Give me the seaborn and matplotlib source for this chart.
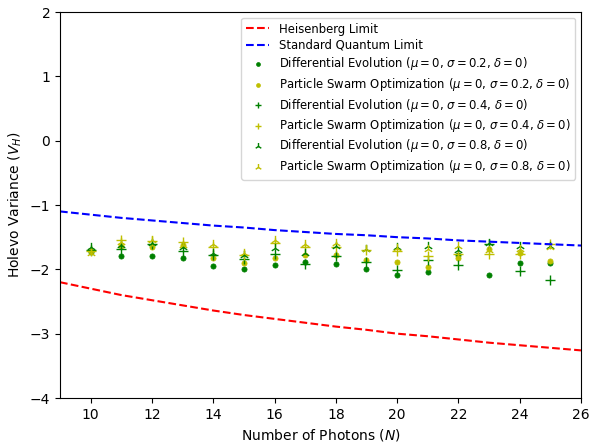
import matplotlib
matplotlib.use("Agg")
import matplotlib.pyplot as plt
import seaborn as sns
import pandas as pd

# Limit curves
n_line = [9, 10, 11, 12, 13, 14, 15, 16, 17, 18, 19, 20, 21, 22, 23, 24, 25, 26]
heisenberg = [-2.20, -2.30, -2.40, -2.48, -2.56, -2.64, -2.71, -2.77, -2.83, -2.89,
              -2.94, -3.00, -3.04, -3.09, -3.14, -3.18, -3.22, -3.26]
sql = [-1.10, -1.15, -1.20, -1.24, -1.28, -1.32, -1.35, -1.39, -1.42, -1.45,
       -1.47, -1.50, -1.52, -1.55, -1.57, -1.59, -1.61, -1.63]

# Optimisation results
n_pts = [10, 11, 12, 13, 14, 15, 16, 17, 18, 19, 20, 21, 22, 23, 24, 25]
de_02 = [-1.73, -1.80, -1.80, -1.82, -1.95, -2.00, -1.94, -1.89, -1.91, -1.99, -2.09, -2.04, -1.78, -2.09, -1.90, -1.90]
pso_02 = [-1.72, -1.64, -1.66, -1.62, -1.82, -1.90, -1.82, -1.78, -1.78, -1.86, -1.88, -1.97, -1.82, -1.68, -1.74, -1.87]
de_04 = [-1.70, -1.68, -1.61, -1.72, -1.78, -1.84, -1.76, -1.91, -1.80, -1.89, -2.01, -1.86, -1.94, -1.61, -2.03, -2.16]
pso_04 = [-1.72, -1.54, -1.56, -1.58, -1.65, -1.78, -1.59, -1.66, -1.66, -1.70, -1.71, -1.80, -1.76, -1.76, -1.76, -1.61]
de_08 = [-1.66, -1.62, -1.59, -1.66, -1.74, -1.78, -1.67, -1.74, -1.63, -1.68, -1.65, -1.64, -1.70, -1.59, -1.64, -1.64]
pso_08 = [-1.74, -1.58, -1.55, -1.62, -1.60, -1.74, -1.54, -1.61, -1.59, -1.69, -1.67, -1.69, -1.63, -1.70, -1.68, -1.66]

x_ticks = [10, 12, 14, 16, 18, 20, 22, 24, 26]
y_ticks = [-4, -3, -2, -1, 0, 1, 2]

fig = plt.figure(figsize=(5.90, 4.46), dpi=100)
ax = fig.add_axes([60 / 590, 1 - 398 / 446, (581 - 60) / 590, (398 - 12) / 446])

sns.lineplot(x=n_line, y=heisenberg, ax=ax, color="red", linestyle="--", lw=1.5,
             label="Heisenberg Limit")
sns.lineplot(x=n_line, y=sql, ax=ax, color="blue", linestyle="--", lw=1.5,
             label="Standard Quantum Limit")

series = [
    (de_02, "g", "o", 14, r"Differential Evolution ($\mu = 0$, $\sigma = 0.2$, $\delta = 0$)"),
    (pso_02, "y", "o", 14, r"Particle Swarm Optimization ($\mu = 0$, $\sigma = 0.2$, $\delta = 0$)"),
    (de_04, "g", "+", 45, r"Differential Evolution ($\mu = 0$, $\sigma = 0.4$, $\delta = 0$)"),
    (pso_04, "y", "+", 45, r"Particle Swarm Optimization ($\mu = 0$, $\sigma = 0.4$, $\delta = 0$)"),
    (de_08, "g", "2", 45, r"Differential Evolution ($\mu = 0$, $\sigma = 0.8$, $\delta = 0$)"),
    (pso_08, "y", "2", 45, r"Particle Swarm Optimization ($\mu = 0$, $\sigma = 0.8$, $\delta = 0$)"),
]
for vals, col, mk, s, lab in series:
    df = pd.DataFrame({"N": n_pts, "V": vals})
    if mk == "o":
        sns.scatterplot(data=df, x="N", y="V", ax=ax, color=col, marker=mk, s=s,
                        edgecolor=col, linewidth=0.5, label=lab)
    else:
        sns.scatterplot(data=df, x="N", y="V", ax=ax, color=col, marker=mk, s=s,
                        linewidth=1.0, label=lab)

ax.set_xlim(9, 26)
ax.set_ylim(-4, 2)
ax.set_xticks(x_ticks)
ax.set_yticks(y_ticks)
ax.set_xlabel(r"Number of Photons ($N$)", fontsize=10)
ax.set_ylabel(r"Holevo Variance ($V_H$)", fontsize=10)
ax.tick_params(labelsize=10)
ax.legend(loc="upper right", fontsize=8.4, markerscale=0.75, handlelength=2.0,
          labelspacing=0.3, borderaxespad=0.5)

fig.savefig("out.png", dpi=100)
